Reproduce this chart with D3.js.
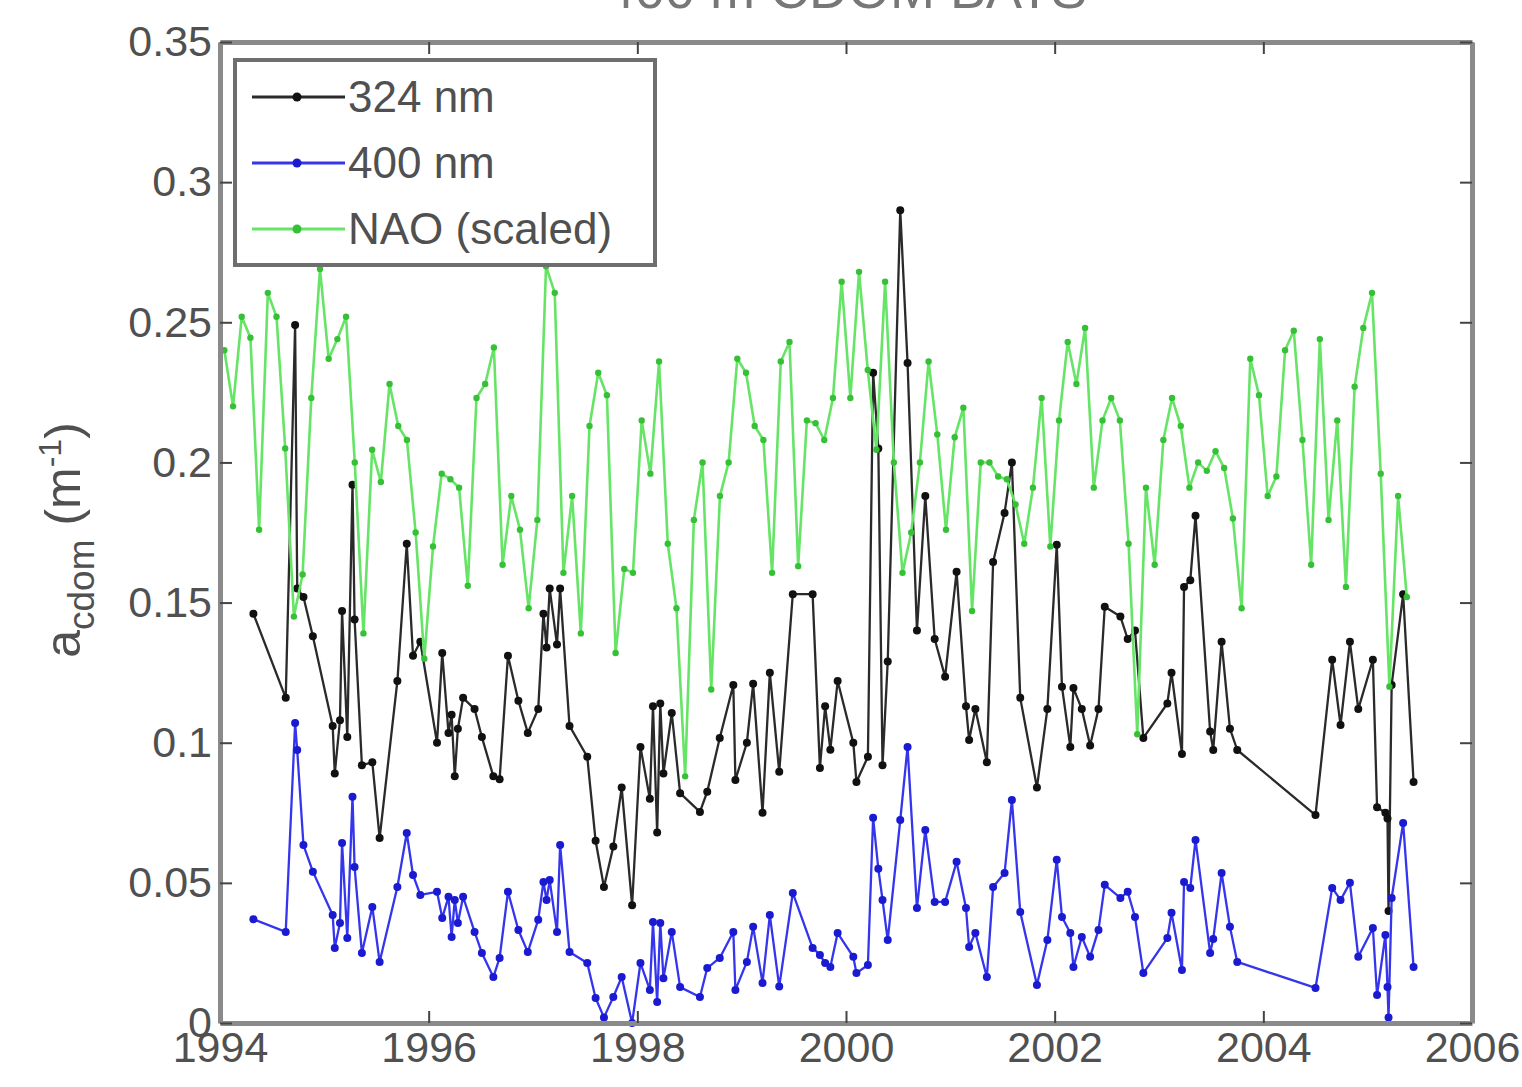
<!DOCTYPE html>
<html>
<head>
<meta charset="utf-8">
<script src="https://cdn.jsdelivr.net/npm/d3@7"></script>
<style>
  html, body { margin: 0; padding: 0; background: #fff; }
  svg { display: block; font-family: "Liberation Sans", Arial, Helvetica, sans-serif; }
</style>
</head>
<body>
<svg id="chart" width="1522" height="1087"></svg>
<script>
// ---------------- DATA ----------------
const chartTitle = "400 m CDOM BATS";
const seriesNames = ["324 nm", "400 nm", "NAO (scaled)"];

// CDOM sample dates (decimal years)
const sampleDates = [
  1994.32, 1994.63, 1994.72, 1994.74, 1994.80, 1994.89, 1995.08, 1995.10, 1995.15, 1995.17,
  1995.22, 1995.27, 1995.29, 1995.36, 1995.46, 1995.53, 1995.70, 1995.79, 1995.85, 1995.92,
  1996.08, 1996.13, 1996.19, 1996.22, 1996.25, 1996.28, 1996.33, 1996.44, 1996.51, 1996.62,
  1996.68, 1996.76, 1996.86, 1996.95, 1997.05, 1997.10, 1997.13, 1997.16, 1997.23, 1997.26,
  1997.35, 1997.52, 1997.60, 1997.68, 1997.77, 1997.85, 1997.95, 1998.03, 1998.12, 1998.15,
  1998.19, 1998.22, 1998.25, 1998.33, 1998.41, 1998.60, 1998.67, 1998.79, 1998.92, 1998.94,
  1999.05, 1999.11, 1999.20, 1999.27, 1999.36, 1999.49, 1999.68, 1999.75, 1999.80, 1999.85,
  1999.92, 2000.07, 2000.10, 2000.21, 2000.26, 2000.31, 2000.35, 2000.40, 2000.52, 2000.59,
  2000.68, 2000.76, 2000.85, 2000.95, 2001.06, 2001.15, 2001.18, 2001.24, 2001.35, 2001.41,
  2001.52, 2001.59, 2001.67, 2001.83, 2001.93, 2002.02, 2002.07, 2002.15, 2002.18, 2002.26,
  2002.34, 2002.42, 2002.48, 2002.63, 2002.70, 2002.77, 2002.85, 2003.08, 2003.12, 2003.22,
  2003.24, 2003.30, 2003.35, 2003.49, 2003.52, 2003.60, 2003.68, 2003.75, 2004.50, 2004.66,
  2004.74, 2004.83, 2004.91, 2005.05, 2005.09, 2005.17, 2005.19, 2005.20, 2005.23, 2005.34,
  2005.44
];

// a_cdom at 324 nm (m^-1)
const acdom324 = [
  0.146, 0.116, 0.249, 0.155, 0.152, 0.138, 0.106, 0.089, 0.108, 0.147,
  0.102, 0.192, 0.144, 0.092, 0.093, 0.066, 0.122, 0.171, 0.131, 0.136,
  0.100, 0.132, 0.1035, 0.110, 0.088, 0.105, 0.116, 0.112, 0.102, 0.088,
  0.087, 0.131, 0.115, 0.1035, 0.112, 0.146, 0.134, 0.155, 0.135, 0.155,
  0.106, 0.095, 0.065, 0.0485, 0.063, 0.084, 0.042, 0.0985, 0.080, 0.113,
  0.068, 0.114, 0.089, 0.1106, 0.082, 0.0753, 0.0825, 0.1017, 0.1206, 0.0867,
  0.100, 0.121, 0.075, 0.125, 0.0896, 0.153, 0.153, 0.091, 0.113, 0.0975,
  0.122, 0.100, 0.086, 0.095, 0.232, 0.205, 0.092, 0.129, 0.290, 0.2355,
  0.140, 0.188, 0.137, 0.1235, 0.161, 0.113, 0.101, 0.112, 0.093, 0.1645,
  0.182, 0.200, 0.116, 0.084, 0.112, 0.1706, 0.120, 0.0985, 0.1195, 0.112,
  0.099, 0.112, 0.1485, 0.145, 0.137, 0.140, 0.1017, 0.114, 0.125, 0.096,
  0.1556, 0.158, 0.181, 0.104, 0.0974, 0.136, 0.105, 0.0974, 0.0742, 0.1296,
  0.1063, 0.136, 0.112, 0.1296, 0.077, 0.075, 0.073, 0.040, 0.1206, 0.153,
  0.086
];

// a_cdom at 400 nm (m^-1)
const acdom400 = [
  0.037, 0.0325, 0.107, 0.0974, 0.0635, 0.054, 0.0385, 0.0268, 0.0357, 0.0642,
  0.0303, 0.0807, 0.0557, 0.025, 0.0414, 0.0218, 0.0485, 0.0678, 0.0528, 0.0457,
  0.0468, 0.0375, 0.045, 0.0307, 0.0439, 0.0357, 0.045, 0.0325, 0.025, 0.0164,
  0.0232, 0.0468, 0.0332, 0.0253, 0.0368, 0.0503, 0.0439, 0.051, 0.0325, 0.0635,
  0.0253, 0.0214, 0.0089, 0.002, 0.0093, 0.0164, 0.0, 0.0214, 0.0118, 0.036,
  0.0075, 0.0357, 0.016, 0.0325, 0.0128, 0.0093, 0.0196, 0.0232, 0.0325, 0.0118,
  0.0218, 0.0343, 0.0143, 0.0385, 0.013, 0.0464, 0.0268, 0.0243, 0.0214, 0.020,
  0.0321, 0.0236, 0.0178, 0.0207, 0.0732, 0.055, 0.0439, 0.0296, 0.0724, 0.0985,
  0.041, 0.0689, 0.0432, 0.0432, 0.0575, 0.041, 0.0271, 0.0321, 0.0164, 0.0485,
  0.0535, 0.0796, 0.0396, 0.0136, 0.0296, 0.0582, 0.0378, 0.0321, 0.020, 0.0307,
  0.0236, 0.0332, 0.0493, 0.0446, 0.0468, 0.0378, 0.0178, 0.0303, 0.0393, 0.0189,
  0.0503, 0.0482, 0.0653, 0.025, 0.030, 0.0535, 0.0343, 0.0218, 0.0125, 0.0482,
  0.0439, 0.050, 0.0236, 0.0339, 0.010, 0.0314, 0.0128, 0.002, 0.0446, 0.0714,
  0.020
];

// Monthly NAO index (scaled), Jan 1994 .. May 2005
const naoStartYear = 1994;
const naoScaled = [
  0.240, 0.220, 0.252, 0.2445, 0.176, 0.2605, 0.252, 0.205, 0.145, 0.160, 0.223, 0.269,
  0.237, 0.244, 0.252, 0.200, 0.139, 0.2045, 0.193, 0.228, 0.213, 0.208, 0.175, 0.130,
  0.170, 0.196, 0.194, 0.191, 0.156, 0.223, 0.228, 0.241, 0.1635, 0.188, 0.176, 0.148,
  0.1795, 0.270, 0.2605, 0.1606, 0.188, 0.139, 0.213, 0.232, 0.224, 0.132, 0.162, 0.1606,
  0.215, 0.196, 0.236, 0.171, 0.148, 0.088, 0.1795, 0.200, 0.119, 0.188, 0.200, 0.237,
  0.232, 0.213, 0.208, 0.1606, 0.236, 0.243, 0.163, 0.215, 0.214, 0.208, 0.223, 0.2645,
  0.223, 0.268, 0.233, 0.2045, 0.2645, 0.200, 0.1606, 0.175, 0.200, 0.236, 0.210, 0.176,
  0.209, 0.2195, 0.147, 0.200, 0.200, 0.195, 0.194, 0.185, 0.171, 0.191, 0.223, 0.170,
  0.215, 0.243, 0.228, 0.248, 0.191, 0.215, 0.223, 0.215, 0.171, 0.103, 0.191, 0.1635,
  0.208, 0.223, 0.213, 0.191, 0.200, 0.197, 0.204, 0.198, 0.180, 0.148, 0.237, 0.224,
  0.188, 0.195, 0.240, 0.247, 0.208, 0.1635, 0.244, 0.1795, 0.215, 0.1556, 0.227, 0.248,
  0.2605, 0.196, 0.120, 0.188, 0.152
];

const xTicks = [1994, 1996, 1998, 2000, 2002, 2004, 2006];
const xTickLabels = ["1994", "1996", "1998", "2000", "2002", "2004", "2006"];
const yTicks = [0, 0.05, 0.1, 0.15, 0.2, 0.25, 0.3, 0.35];
const yTickLabels = ["0", "0.05", "0.1", "0.15", "0.2", "0.25", "0.3", "0.35"];

// ---------------- DRAWING ----------------
const svg = d3.select("#chart");
const W = 1522, H = 1087;
const plot = { left: 220, right: 1472, top: 42, bottom: 1023 };

const x = d3.scaleLinear().domain([1994, 2006]).range([plot.left, plot.right]);
const y = d3.scaleLinear().domain([0, 0.35]).range([plot.bottom, plot.top]);

svg.append("rect").attr("width", W).attr("height", H).attr("fill", "#fff");

const textColor = "#505050";
const fontSize = 43;

// title (mostly cut off at top of the image, as in the reference)
svg.append("text")
  .attr("x", (plot.left + plot.right) / 2)
  .attr("y", 8)
  .attr("text-anchor", "middle")
  .attr("font-size", 54)
  .attr("fill", "#777")
  .text(chartTitle);

// series data
const s324 = sampleDates.map((d, i) => ({ x: d, y: acdom324[i] }));
const s400 = sampleDates.map((d, i) => ({ x: d, y: acdom400[i] }));
const sNao = naoScaled.map((v, i) => ({ x: naoStartYear + (i + 0.5) / 12, y: v }));

svg.append("clipPath").attr("id", "clip")
  .append("rect")
  .attr("x", plot.left).attr("y", plot.top - 4)
  .attr("width", plot.right - plot.left).attr("height", plot.bottom - plot.top + 8);

const line = d3.line().x(d => x(d.x)).y(d => y(d.y));
const g = svg.append("g").attr("clip-path", "url(#clip)");

const series = [
  { data: s324, color: "#2a2a2a", lw: 2.3, mc: "#111", r: 4 },
  { data: s400, color: "#3535ee", lw: 2.3, mc: "#1a1ad0", r: 4 },
  { data: sNao, color: "#66e466", lw: 2.6, mc: "#36c036", r: 3.2 }
];

series.forEach(s => {
  g.append("path")
    .datum(s.data)
    .attr("fill", "none")
    .attr("stroke", s.color)
    .attr("stroke-width", s.lw)
    .attr("stroke-linejoin", "round")
    .attr("d", line);
  g.selectAll(null)
    .data(s.data)
    .enter()
    .append("circle")
    .attr("cx", d => x(d.x))
    .attr("cy", d => y(d.y))
    .attr("r", s.r)
    .attr("fill", s.mc);
});

// axes (MATLAB box style, ticks inside on all sides)
const axisStroke = "#8a8a8a";
function styleAxis(sel) {
  sel.select(".domain").attr("stroke", axisStroke).attr("stroke-width", 5);
  sel.selectAll(".tick line").attr("stroke", "#444").attr("stroke-width", 2);
  sel.selectAll(".tick text")
    .attr("fill", textColor)
    .attr("font-size", fontSize)
    .attr("font-family", "\"Liberation Sans\", Arial, sans-serif");
}

svg.append("g")
  .attr("transform", `translate(0,${plot.bottom})`)
  .call(d3.axisBottom(x).tickValues(xTicks).tickSize(-12).tickSizeOuter(0).tickPadding(8)
    .tickFormat((d, i) => xTickLabels[i]))
  .call(styleAxis);

svg.append("g")
  .attr("transform", `translate(0,${plot.top})`)
  .call(d3.axisTop(x).tickValues(xTicks).tickSize(-12).tickSizeOuter(0).tickFormat(""))
  .call(styleAxis);

svg.append("g")
  .attr("transform", `translate(${plot.left},0)`)
  .call(d3.axisLeft(y).tickValues(yTicks).tickSize(-12).tickSizeOuter(0).tickPadding(8)
    .tickFormat((d, i) => yTickLabels[i]))
  .call(styleAxis);

svg.append("g")
  .attr("transform", `translate(${plot.right},0)`)
  .call(d3.axisRight(y).tickValues(yTicks).tickSize(-12).tickSizeOuter(0).tickFormat(""))
  .call(styleAxis);

// y-axis label: a_cdom (m^-1)
const yl = svg.append("text")
  .attr("transform", `translate(80,540) rotate(-90)`)
  .attr("text-anchor", "middle")
  .attr("font-size", 50)
  .attr("fill", textColor);
yl.append("tspan").text("a");
yl.append("tspan").attr("font-size", 37).attr("dy", 14).text("cdom");
yl.append("tspan").attr("dy", -14).text(" (m");
yl.append("tspan").attr("font-size", 32).attr("dy", -19).text("-1");
yl.append("tspan").attr("dy", 19).text(")");

// legend
const lg = svg.append("g");
lg.append("rect")
  .attr("x", 235).attr("y", 60).attr("width", 420).attr("height", 205)
  .attr("fill", "#fff").attr("stroke", "#6e6e6e").attr("stroke-width", 4);
series.forEach((s, i) => {
  const cy = 97 + i * 66;
  lg.append("line")
    .attr("x1", 252).attr("x2", 345).attr("y1", cy).attr("y2", cy)
    .attr("stroke", s.color).attr("stroke-width", 3);
  lg.append("circle").attr("cx", 297).attr("cy", cy).attr("r", 4.5).attr("fill", s.mc);
  lg.append("text")
    .attr("x", 348).attr("y", cy + 15)
    .attr("font-size", 44)
    .attr("fill", textColor)
    .text(seriesNames[i]);
});
</script>
</body>
</html>
